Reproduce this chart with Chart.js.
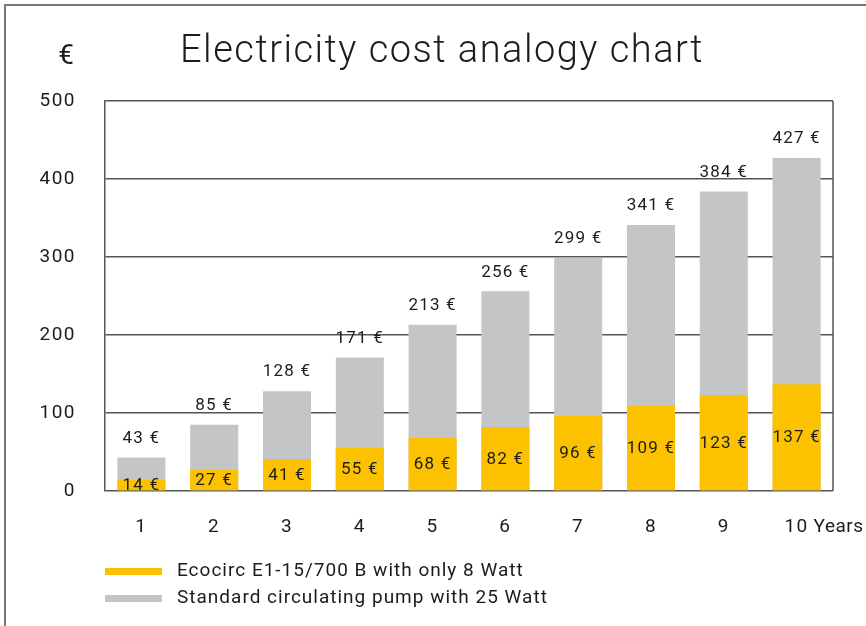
<!DOCTYPE html>
<html>
<head>
<meta charset="utf-8">
<title>Electricity cost analogy chart</title>
<script src="https://cdn.jsdelivr.net/npm/chart.js@4"></script>
<style>
    html, body { margin: 0; padding: 0; background: #fff; }
    #wrap { width: 866px; height: 626px; }
</style>
</head>
<body>
<div id="wrap"><canvas id="costChart" width="866" height="626"></canvas></div>
<script>
// chart data
const years = ['1', '2', '3', '4', '5', '6', '7', '8', '9', '10'];
const ecocircCost = [14, 27, 41, 55, 68, 82, 96, 109, 123, 137];
const standardCost = [43, 85, 128, 171, 213, 256, 299, 341, 384, 427];
const yTicks = [0, 100, 200, 300, 400, 500];
const seriesNames = ['Ecocirc E1-15/700 B with only 8 Watt', 'Standard circulating pump with 25 Watt'];
const chartTitle = 'Electricity cost analogy chart';
const unitLabel = '€';
const yearsLabel = 'Years';

const YELLOW = '#fcc200';
const GREY = '#c4c5c7';
const INK = '#1c1c1c';
const LINE = '#555555';
const FONT = 'Roboto, "Liberation Sans", sans-serif';

// extra drawing: frame, title, value labels, legend
const extras = {
    id: 'extras',
    beforeDraw(chart) {
        const ctx = chart.ctx;
        ctx.save();
        ctx.fillStyle = '#fff';
        ctx.fillRect(0, 0, chart.width, chart.height);
        ctx.strokeStyle = '#777';
        ctx.lineWidth = 2;
        ctx.beginPath();
        ctx.moveTo(5, chart.height);
        ctx.lineTo(5, 5);
        ctx.lineTo(chart.width, 5);
        ctx.stroke();
        ctx.restore();
        // wider spacing for the axis ticks, like the original typeface
        ctx.letterSpacing = '1.5px';
    },
    afterDatasetsDraw(chart) {
        const ctx = chart.ctx;
        const area = chart.chartArea;
        ctx.save();

        // right border of plot
        ctx.strokeStyle = LINE;
        ctx.lineWidth = 1.5;
        ctx.beginPath();
        ctx.moveTo(area.right, area.top);
        ctx.lineTo(area.right, area.bottom);
        ctx.stroke();

        // value labels
        ctx.fillStyle = INK;
        ctx.font = '17px ' + FONT;
        ctx.letterSpacing = '1.2px';
        ctx.textAlign = 'center';
        ctx.textBaseline = 'middle';
        const ecoBars = chart.getDatasetMeta(0).data;
        const stdBars = chart.getDatasetMeta(1).data;
        stdBars.forEach((bar, i) => {
            ctx.fillText(standardCost[i] + ' €', bar.x, bar.y - 19);
        });
        ecoBars.forEach((bar, i) => {
            ctx.fillText(ecocircCost[i] + ' €', bar.x, (bar.y + bar.base) / 2 + 1);
        });

        // title and unit
        ctx.font = '300 38px ' + FONT;
        ctx.letterSpacing = '1.5px';
        ctx.fillText(chartTitle, 442, 52);
        ctx.font = '28px ' + FONT;
        ctx.letterSpacing = '0px';
        ctx.fillText(unitLabel, 66, 57);

        // "Years" after last tick
        const xScale = chart.scales.x;
        ctx.font = '19px ' + FONT;
        ctx.letterSpacing = '0.5px';
        ctx.textAlign = 'left';
        const lastX = xScale.getPixelForTick(years.length - 1);
        ctx.fillText(yearsLabel, lastX + 17, 527);

        // legend
        const colors = [YELLOW, GREY];
        ctx.letterSpacing = '1px';
        seriesNames.forEach((name, i) => {
            const y = 571 + i * 27;
            ctx.fillStyle = colors[i];
            ctx.fillRect(105, y - 3, 57, 7);
            ctx.fillStyle = INK;
            ctx.fillText(name, 177, y);
        });

        ctx.restore();
    }
};

const ctx = document.getElementById('costChart').getContext('2d');
const costChart = new Chart(ctx, {
    type: 'bar',
    data: {
        labels: years,
        datasets: [{
            label: seriesNames[0],
            data: ecocircCost,
            backgroundColor: YELLOW,
            grouped: false,
            order: 0
        }, {
            label: seriesNames[1],
            data: standardCost,
            backgroundColor: GREY,
            grouped: false,
            order: 1
        }]
    },
    options: {
        responsive: false,
        animation: false,
        devicePixelRatio: 1,
        layout: { padding: { top: 101, right: 33, left: 0, bottom: 0 } },
        datasets: {
            bar: { barPercentage: 0.66, categoryPercentage: 1.0 }
        },
        scales: {
            x: {
                grid: { display: false },
                border: { display: false },
                ticks: {
                    color: INK,
                    font: { family: FONT, size: 19 },
                    padding: 17,
                    maxRotation: 0
                },
                afterFit: (scale) => { scale.height = 135; }
            },
            y: {
                min: 0,
                max: 500,
                afterBuildTicks: (scale) => { scale.ticks = yTicks.map(v => ({ value: v })); },
                grid: { color: LINE, lineWidth: 1.5, drawTicks: false },
                border: { display: true, color: LINE, width: 1.5 },
                ticks: {
                    color: INK,
                    font: { family: FONT, size: 19 },
                    padding: 29
                },
                afterFit: (scale) => { scale.width = 105; }
            }
        },
        plugins: {
            legend: { display: false },
            tooltip: { enabled: false },
            title: { display: false }
        }
    },
    plugins: [extras]
});
</script>
</body>
</html>
